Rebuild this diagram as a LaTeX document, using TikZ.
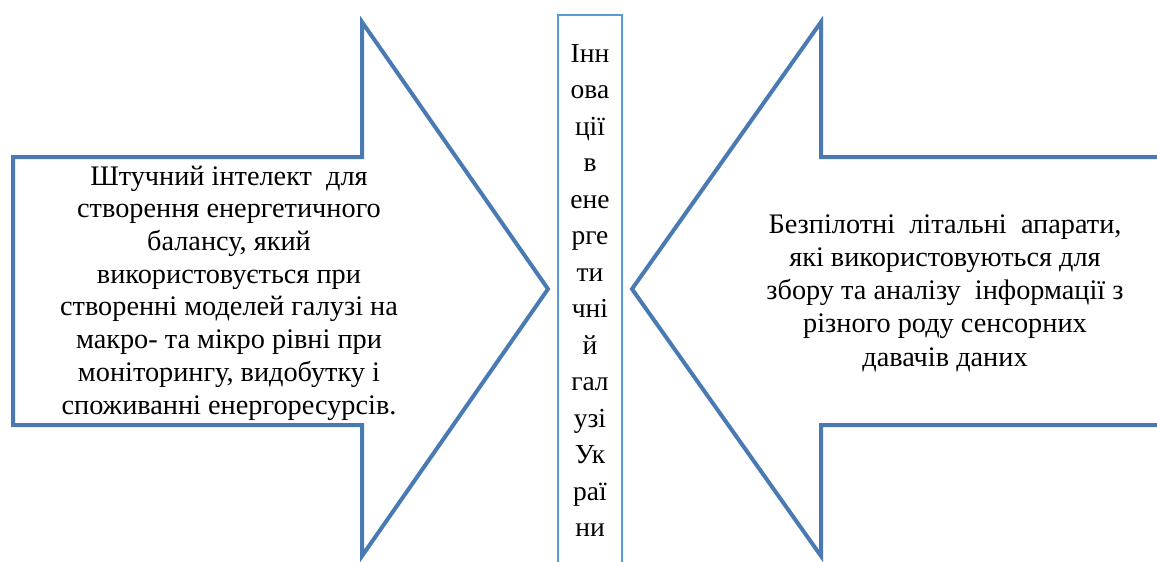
\documentclass[tikz,border=0pt]{standalone}
\usepackage{fontspec}
\setmainfont{Liberation Serif}
\newfontfamily\diagfont{Liberation Serif}
\usepackage{tikz}
\usepackage{xcolor}
\usetikzlibrary{positioning}
\definecolor{arrowblue}{RGB}{74,122,180}
\definecolor{boxblue}{RGB}{91,155,213}

\begin{document}
\begin{tikzpicture}[
  x=1pt, y=-1pt,
  bigarrow/.style={draw=arrowblue, line width=4pt, fill=white, line join=miter},
  midbox/.style={draw=boxblue, line width=2pt, fill=white},
  arrowtext/.style={align=center, font=\diagfont\fontsize{28.3}{32.7}\selectfont, inner sep=0pt},
]

% ===== Canvas: 1157 x 562 =====
\useasboundingbox (0,0) rectangle (1157,562);
\clip (0,0) rectangle (1157,562);

%% ---- LEFT ARROW (points right) ----
\coordinate (ltip) at (548,289);
\draw[bigarrow] (13,157) -- (362,157) -- (362,22) -- (ltip)
  -- (362,556) -- (362,425) -- (13,425) -- cycle;

% Left text
\node[arrowtext] (lefttext) at (229,293)
  {Штучний інтелект\ \ для\\
   створення енергетичного\\
   балансу, який\\
   використовується при\\
   створенні моделей галузі на\\
   макро- та мікро рівні при\\
   моніторингу, видобутку і\\
   споживанні енергоресурсів.};

%% ---- CENTER COLUMN ----
\draw[midbox] (558,15) rectangle (622,575);
\node[align=center, font=\diagfont\fontsize{27.5}{36.5}\selectfont, inner sep=0pt,
      anchor=north] (midtext) at (590,44)
  {Інн\\ова\\ції\\в\\ене\\рге\\ти\\чні\\й\\гал\\узі\\Ук\\раї\\ни};

%% ---- RIGHT ARROW (points left) ----
\coordinate (rtip) at (632,289);
\draw[bigarrow] (1170,157) -- (821,157) -- (821,22) -- (rtip)
  -- (821,556) -- (821,425) -- (1170,425) -- cycle;

% Right text
\node[arrowtext, font=\diagfont\fontsize{28.3}{33.2}\selectfont] (righttext) at (945,293)
  {Безпілотні\ \ літальні\ \ апарати,\\
   які використовуються для\\
   збору та аналізу\ \ інформації з\\
   різного роду сенсорних\\
   давачів даних};

\end{tikzpicture}
\end{document}
